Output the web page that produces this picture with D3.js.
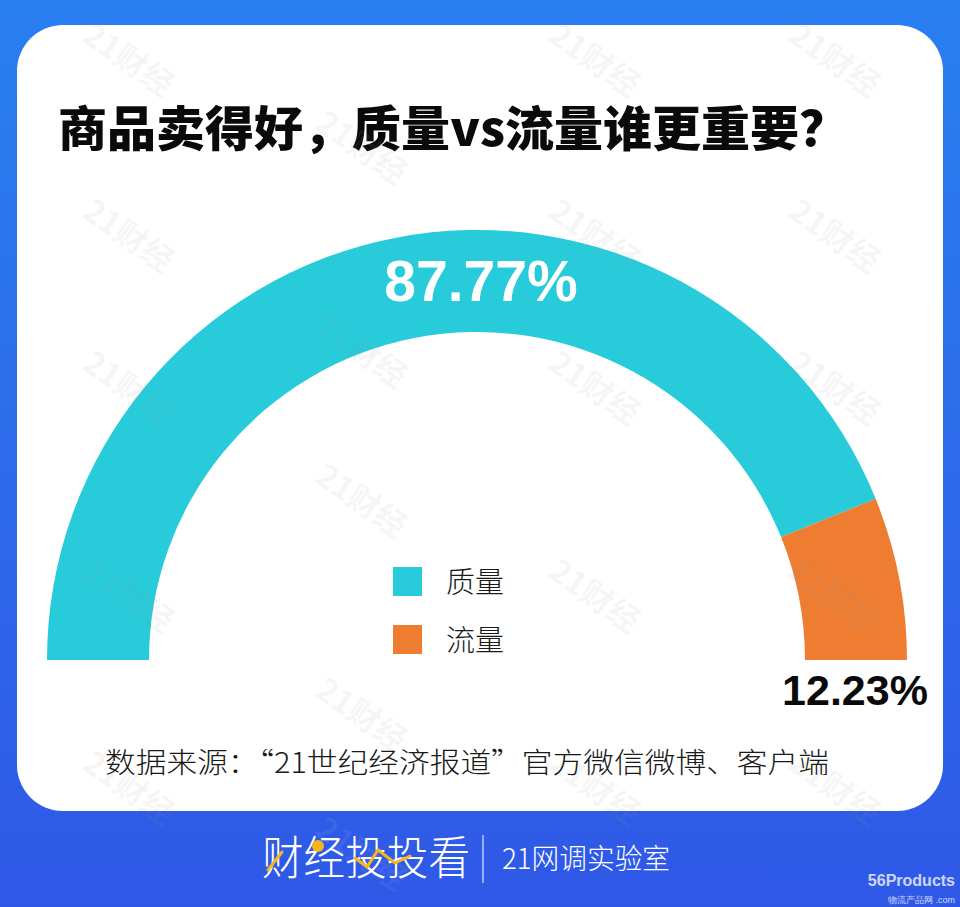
<!DOCTYPE html>
<html>
<head>
<meta charset="utf-8">
<script src="https://cdn.jsdelivr.net/npm/d3@7"></script>
<style>
  html, body { margin: 0; padding: 0; background: #2b6ff0; }
  svg { display: block; }
</style>
</head>
<body>
<svg id="chart" width="960" height="907"></svg>
<script>
// ---- data ----
const title = "商品卖得好，质量vs流量谁更重要？";
const categories = ["质量", "流量"];
const values = [87.77, 12.23];
const valueLabels = ["87.77%", "12.23%"];
const colors = ["#27cbd9", "#ee7d32"];
const sourceText = "数据来源：“21世纪经济报道”官方微信微博、客户端";
const brandName = "财经投投看";
const labName = "21网调实验室";
const watermarkText = "21财经";

const W = 960, H = 907;
const svg = d3.select("#chart");
const defs = svg.append("defs");
const grad = defs.append("linearGradient").attr("id", "bg").attr("x1", 0).attr("y1", 0).attr("x2", 0).attr("y2", 1);
grad.append("stop").attr("offset", "0%").attr("stop-color", "#2a7ff1");
grad.append("stop").attr("offset", "100%").attr("stop-color", "#2f58e6");

svg.append("rect").attr("width", W).attr("height", H).attr("fill", "url(#bg)");

// card
svg.append("rect").attr("x", 17).attr("y", 25).attr("width", 926).attr("height", 786)
  .attr("rx", 46).attr("ry", 46).attr("fill", "#ffffff");

// title
svg.append("text").attr("x", 58).attr("y", 146)
  .attr("font-family", "'Noto Sans CJK SC', sans-serif").attr("font-weight", 900)
  .attr("font-size", 48).attr("fill", "#0a0a0a")
  .attr("textLength", 790).attr("lengthAdjust", "spacingAndGlyphs")
  .text(title);

// gauge
const cx = 477, cy = 660;
const pie = d3.pie().sort(null).value(d => d).startAngle(-Math.PI / 2).endAngle(Math.PI / 2);
const arcGen = d3.arc().innerRadius(328).outerRadius(430);
const g = svg.append("g").attr("transform", `translate(${cx},${cy})`);
const arcs = pie(values);
g.selectAll("path").data(arcs).join("path")
  .attr("d", arcGen).attr("fill", (d, i) => colors[i]);

// watermarks (faint, over the card and arc)
const wmCols = [127, 360, 593, 833];
const wmRowsA = [62, 238, 390, 598, 790];
const wmRowsB = [150, 353, 503, 717, 856];
const wm = svg.append("g").attr("pointer-events", "none");
wmCols.forEach((x, ci) => {
  const rows = ci === 1 ? wmRowsB : wmRowsA;
  rows.forEach(y => {
    const onBlue = y > 815;
    wm.append("text").attr("transform", `translate(${x},${y}) rotate(35)`)
      .attr("text-anchor", "middle").attr("dominant-baseline", "middle")
      .attr("font-family", "'Noto Sans CJK SC', sans-serif").attr("font-weight", 700)
      .attr("font-size", 32).attr("fill", onBlue ? "#ffffff" : "#9a9a9a").attr("fill-opacity", onBlue ? 0.06 : 0.09)
      .text(watermarkText);
  });
});

// value labels
svg.append("text").attr("x", 481).attr("y", 301).attr("text-anchor", "middle")
  .attr("font-family", "'Liberation Sans', Arial, sans-serif").attr("font-weight", 700)
  .attr("font-size", 57).attr("fill", "#ffffff").text(valueLabels[0]);
svg.append("text").attr("x", 855).attr("y", 705).attr("text-anchor", "middle")
  .attr("font-family", "'Liberation Sans', Arial, sans-serif").attr("font-weight", 700)
  .attr("font-size", 43).attr("fill", "#0a0a0a").text(valueLabels[1]);

// legend
const leg = svg.append("g");
categories.forEach((c, i) => {
  const y0 = 567 + i * 58;
  leg.append("rect").attr("x", 393).attr("y", y0).attr("width", 29).attr("height", 29).attr("fill", colors[i]);
  leg.append("text").attr("x", 446).attr("y", y0 + 26)
    .attr("font-family", "'Noto Sans CJK SC', sans-serif").attr("font-weight", 300)
    .attr("font-size", 29).attr("fill", "#1a1a1a").text(c);
});

// source
svg.append("text").attr("x", 105).attr("y", 773)
  .attr("font-family", "'Noto Sans CJK SC', sans-serif").attr("font-weight", 300)
  .attr("font-size", 28).attr("fill", "#1a1a1a")
  .attr("textLength", 724).attr("lengthAdjust", "spacingAndGlyphs")
  .text(sourceText);

// footer brand
svg.append("text").attr("x", 262).attr("y", 874)
  .attr("font-family", "'Noto Sans CJK SC', sans-serif").attr("font-weight", 300)
  .attr("font-size", 46).attr("fill", "#ffffff")
  .attr("textLength", 208).attr("lengthAdjust", "spacingAndGlyphs")
  .text(brandName);
const yl = [[268, 870], [282, 852]];
svg.append("path").attr("d", d3.line()(yl)).attr("stroke", "#f5b51c").attr("stroke-width", 3).attr("fill", "none").attr("stroke-linecap", "round");
const yl2 = [[355, 858], [367, 867], [378, 850], [395, 863], [410, 856]];
svg.append("path").attr("d", d3.line()(yl2)).attr("stroke", "#f5b51c").attr("stroke-width", 3).attr("fill", "none").attr("stroke-linecap", "round");
svg.append("circle").attr("cx", 318).attr("cy", 846).attr("r", 6).attr("fill", "#f5b51c");
svg.append("line").attr("x1", 483).attr("x2", 483).attr("y1", 835).attr("y2", 883)
  .attr("stroke", "#ffffff").attr("stroke-opacity", 0.85).attr("stroke-width", 1.2);
svg.append("text").attr("x", 502).attr("y", 869)
  .attr("font-family", "'Noto Sans CJK SC', sans-serif").attr("font-weight", 300)
  .attr("font-size", 28).attr("fill", "#ffffff")
  .attr("textLength", 168).attr("lengthAdjust", "spacingAndGlyphs")
  .text(labName);

// corner mark
const cm = svg.append("g").attr("opacity", 0.75);
cm.append("text").attr("x", 955).attr("y", 886).attr("text-anchor", "end")
  .attr("font-family", "'Liberation Sans', Arial, sans-serif").attr("font-weight", 700)
  .attr("font-size", 16).attr("fill", "#ffffff").text("56Products");
cm.append("text").attr("x", 955).attr("y", 903).attr("text-anchor", "end")
  .attr("font-family", "'Liberation Sans', Arial, sans-serif")
  .attr("font-size", 9).attr("fill", "#ffffff").text("物流产品网 .com");
</script>
</body>
</html>
